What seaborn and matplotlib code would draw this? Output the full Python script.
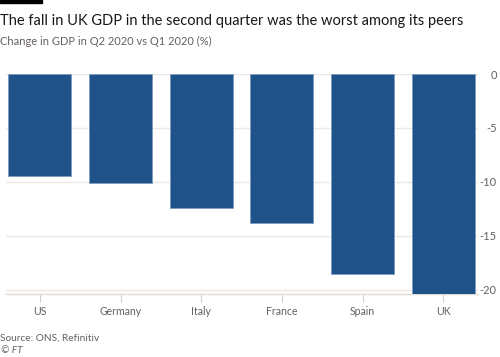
import matplotlib
matplotlib.use("Agg")
import matplotlib.pyplot as plt
import seaborn as sns
import pandas as pd

# data
countries = ["US", "Germany", "Italy", "France", "Spain", "UK"]
gdp_change = [-9.5, -10.1, -12.4, -13.8, -18.5, -20.4]
yticks = [0, -5, -10, -15, -20]

df = pd.DataFrame({"Country": countries, "Change": gdp_change})

sns.set_theme(style="white")
plt.rcParams["font.family"] = ["Lato", "DejaVu Sans"]

fig = plt.figure(figsize=(5, 3.57), dpi=100)
ax = fig.add_axes([0.012, 0.1765, 0.944, 0.6162])

sns.barplot(data=df, x="Country", y="Change", color="#1f5289", saturation=1,
            width=0.78, edgecolor="#7d9cc4", linewidth=0.6, ax=ax, zorder=3)

ax.set_ylim(-20.4, 0)
ax.set_xlim(-0.42, 5.43)
ax.set_yticks(yticks)
ax.set_yticklabels([str(t) for t in yticks])
for t in yticks:
    ax.axhline(t, color="#ede8e4", lw=1, zorder=1)

ax.yaxis.tick_right()
ax.tick_params(axis="y", length=0, pad=13.5, labelsize=8, labelcolor="#66605c")
for lab in ax.get_yticklabels():
    lab.set_horizontalalignment("right")
ax.tick_params(axis="x", length=6, width=0.8, color="#d4cfcb", pad=3,
               labelsize=7.6, labelcolor="#66605c", bottom=True)

for s in ["top", "left", "right"]:
    ax.spines[s].set_visible(False)
ax.spines["bottom"].set_color("#e2ddd9")
ax.spines["bottom"].set_linewidth(1)
ax.set_xlabel("")
ax.set_ylabel("")

# titles and notes
fig.text(0.0, 0.94, "The fall in UK GDP in the second quarter was the worst among its peers",
         fontsize=10.55, color="#1a1817", va="center")
fig.text(0.0, 0.885, "Change in GDP in Q2 2020 vs Q1 2020 (%)",
         fontsize=8, color="#66605c", va="center")
fig.text(0.0, 0.053, "Source: ONS, Refinitiv", fontsize=7.3, color="#66605c", va="center")
fig.text(0.002, 0.017, "© FT", fontsize=7.3, color="#66605c", style="italic", va="center")
fig.patches.append(plt.Rectangle((0, 0.992), 0.084, 0.008, transform=fig.transFigure,
                                 color="black", figure=fig))

fig.savefig("out.png", dpi=100)
